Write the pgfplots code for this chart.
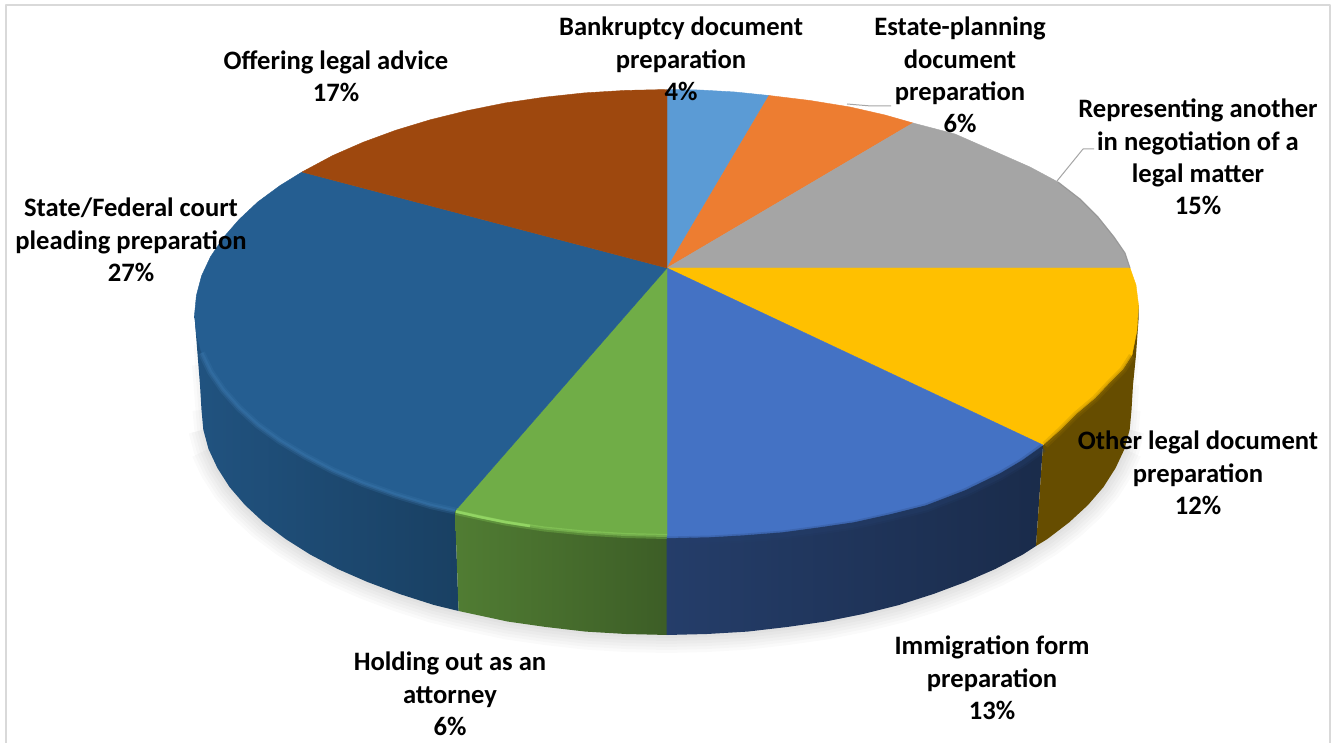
\documentclass[border=0pt]{standalone}
\usepackage{fontspec}
\setmainfont{Carlito}
\usepackage{pgfplots}
\usepackage{pgfplotstable}
\pgfplotsset{compat=1.18}

\definecolor{cBank}{HTML}{5B9BD5}
\definecolor{cEstate}{HTML}{ED7D31}
\definecolor{cRepr}{HTML}{A5A5A5}
\definecolor{cOther}{HTML}{FFC000}
\definecolor{cImm}{HTML}{4472C4}
\definecolor{cHold}{HTML}{70AD47}
\definecolor{cState}{HTML}{255E91}
\definecolor{cOffer}{HTML}{9E480E}
\definecolor{cHoldRim}{HTML}{92D563}

% lower rim of the pie, used for the soft shadow
\pgfplotstableread{
x y
197 345
198 365
201.5 410
203.3 429.6
208.5 449
217.4 468
229.5 487
245 505
263.8 522.5
285.6 539
310.3 554.6
337.7 569
367.5 582
399.6 594
434 605
458.6 611
507.5 621.5
546 627
585.6 631.6
626 634
666.5 635
707 634
747.4 631.6
787 627
825.5 621.5
863 614
899 605
933.4 594
965.5 582
995.3 569
1022.7 554.6
1036 546
1047.4 539
1069 522.5
1088 505
1103.5 487
1115.6 468
1124.5 449
1129.7 429.6
1131.5 410
1133 385
1136 355
}\rimtable

\newcommand{\lab}[3]{\node[align=center,inner sep=0pt,font=\fontsize{26.6}{32.4}\selectfont\bfseries] at (axis cs:#1,#2) {#3};}

\begin{document}
\begin{tikzpicture}
\begin{axis}[
  scale only axis,
  width=1333pt,
  height=743pt,
  xmin=0, xmax=1333,
  ymin=0, ymax=743,
  y dir=reverse,
  hide axis,
  line join=round,
]
% page and frame
\addplot[fill=white,draw=none] coordinates {(0,0) (1333,0) (1333,743) (0,743)} --cycle;
\addplot[draw=black!15,line width=2pt] coordinates {(6,743) (6,5) (1330,5) (1330,743)};

% shadow, wider layers start further round the rim
\addplot[black,opacity=.02,line width=36pt,restrict y to domain=440:700] table {\rimtable};
\addplot[black,opacity=.02,line width=30pt,restrict y to domain=420:700] table {\rimtable};
\addplot[black,opacity=.02,line width=24pt,restrict y to domain=420:700] table {\rimtable};
\addplot[black,opacity=.02,line width=18pt,restrict y to domain=400:700] table {\rimtable};
\addplot[black,opacity=.02,line width=12pt,restrict y to domain=360:700] table {\rimtable};
\addplot[black,opacity=.02,line width=6pt] table {\rimtable};

% side walls
\addplot[draw=none,left color=cState!88!black,right color=cState!68!black] coordinates {
 (194.5,315) (196,335) (198,360) (200,385) (201.5,410) (203.3,429.6) (208.5,449) (217.4,468)
 (229.5,487) (245,505) (263.8,522.5) (285.6,539) (310.3,554.6) (337.7,569) (367.5,582)
 (399.6,594) (434,605) (458.6,611) (455,510) (400,400)} --cycle;
\addplot[draw=none,left color=cHold!72!black,right color=cHold!54!black] coordinates {
 (455,510) (458.6,611) (507.5,621.5) (546,627) (585.6,631.6) (626,634) (668,635) (668,530)} --cycle;
\addplot[draw=none,left color=cImm!54!black,right color=cImm!38!black] coordinates {
 (666.5,530) (666.5,635) (707,634) (747.4,631.6) (787,627) (825.5,621.5) (863,614) (899,605)
 (933.4,594) (965.5,582) (995.3,569) (1022.7,554.6) (1036,546) (1043,445)} --cycle;
\addplot[fill=cOther!40!black,draw=none] coordinates {
 (1043,445) (1036,546) (1047.4,539) (1069,522.5) (1088,505) (1103.5,487) (1115.6,468) (1124.5,449)
 (1129.7,429.6) (1131.5,410) (1133,385) (1136,355) (1138.5,320) (1138.5,305)} --cycle;

% top face
\addplot[fill=cBank,draw=cBank,line width=.4pt] coordinates {
 (667,268) (667,89.5) (700,90) (735,92) (769,95.5)} --cycle;
\addplot[fill=cEstate,draw=cEstate,line width=.4pt] coordinates {
 (667,268) (769,95.5) (810,100.5) (850,107) (885,115) (913,123)} --cycle;
\addplot[fill=cRepr,draw=cRepr,line width=.4pt] coordinates {
 (667,268) (913,123) (955,134) (996,152) (1030,167) (1058,182) (1080,199) (1098,217) (1114,237)
 (1125,253) (1130,268)} --cycle;
\addplot[fill=cOther,draw=cOther,line width=.4pt] coordinates {
 (667,268) (1130,268) (1136,285) (1138.5,305) (1137,330) (1132,355) (1123,369) (1111,381)
 (1095,398) (1076,414) (1060,430) (1043,445)} --cycle;
\addplot[fill=cImm,draw=cImm,line width=.4pt] coordinates {
 (667,268) (1043,445) (1022,460) (1000,473) (965,490) (926,505) (890,514) (854,522) (820,527)
 (783,532) (745,535) (711,537) (667,538)} --cycle;
\addplot[fill=cHold,draw=cHold,line width=.4pt] coordinates {
 (667,268) (667,535) (625.4,534) (584.4,531.7) (544.3,527.5) (505,521.7) (455,511)} --cycle;
\addplot[fill=cState,draw=cState,line width=.4pt] coordinates {
 (667,268) (455,511) (430.5,505.5) (395.6,495) (363,483.5) (332.8,470.6) (305,456) (280,441)
 (257.7,425) (239,408) (223,390) (210.6,372) (201.6,353) (196.4,334) (194.5,315) (196.4,295.4)
 (201.6,275.8) (210.6,256.6) (223,238) (239,219.6) (257.7,202) (280,185.6) (302,172)} --cycle;
\addplot[fill=cOffer,draw=cOffer,line width=.4pt] coordinates {
 (667,268) (302,172) (332.8,155.5) (363,142.3) (395.6,130.3) (430.5,119.7) (467,110.7) (505,103)
 (544.3,97.2) (584.4,92.9) (625.4,90.4) (667,89.5)} --cycle;

% rim highlights, soft by layering
\addplot[draw=cState!60!cBank,opacity=.25,line width=7pt] coordinates {
 (201.6,353) (210.6,372) (223,390) (239,408) (257.7,425) (280,441) (305,456)
 (332.8,470.6) (363,483.5) (395.6,495) (430.5,505.5) (455,511)};
\addplot[draw=cState!60!cBank,opacity=.4,line width=3.5pt] coordinates {
 (201.6,353) (210.6,372) (223,390) (239,408) (257.7,425) (280,441) (305,456)
 (332.8,470.6) (363,483.5) (395.6,495) (430.5,505.5) (455,511)};
\addplot[draw=cHold,opacity=.5,line width=7pt] coordinates {
 (456,511.5) (505,522) (544.3,528) (584.4,532) (625.4,534.5) (667,535.5)};
\addplot[draw=cHoldRim,opacity=.45,line width=3pt] coordinates {
 (456,511.5) (505,522) (544.3,528) (584.4,532) (625.4,534.5) (667,535.5)};
\addplot[draw=cHoldRim,line width=2.5pt] coordinates {
 (456,511.5) (480,517) (505,522) (530,526)};
\addplot[draw=cImm!55!black,opacity=.22,line width=9pt] coordinates {
 (1043,448) (1022,463) (1000,476) (965,493) (926,508) (890,517) (854,525) (820,530)
 (783,535) (745,538) (711,540) (667,541)};
\addplot[draw=cImm!55!black,opacity=.3,line width=5pt] coordinates {
 (1043,448) (1022,463) (1000,476) (965,493) (926,508) (890,517) (854,525) (820,530)
 (783,535) (745,538) (711,540) (667,541)};
\addplot[draw=cOther!60!black,opacity=.22,line width=7pt] coordinates {
 (1045,445) (1060,431) (1076,415) (1095,399) (1111,382) (1123,370) (1132,356)};
\addplot[draw=cOther!60!black,opacity=.3,line width=3pt] coordinates {
 (1045,445) (1060,431) (1076,415) (1095,399) (1111,382) (1123,370) (1132,356)};
\addplot[draw=black!45,opacity=.6,line width=1.2pt] coordinates {
 (1058,182) (1080,199) (1098,217) (1114,237) (1125,253) (1130,268)};

% leader lines
\addplot[draw=black!35,line width=1pt] coordinates {(847,104) (871,106) (891,106)};
\addplot[draw=black!35,line width=1pt] coordinates {(1057,181) (1083,149) (1094,149)};

% labels
\lab{681}{59}{Bankruptcy document\\preparation\\4\%}
\lab{960}{75}{Estate-planning\\document\\preparation\\6\%}
\lab{1198}{157}{Representing another\\in negotiation of a\\legal matter\\15\%}
\lab{1198}{473}{Other legal document\\preparation\\12\%}
\lab{992}{678}{Immigration form\\preparation\\13\%}
\lab{450}{694}{Holding out as an\\attorney\\6\%}
\lab{131}{240}{State/Federal court\\pleading preparation\\27\%}
\lab{336}{76}{Offering legal advice\\17\%}
\end{axis}
\end{tikzpicture}
\end{document}
